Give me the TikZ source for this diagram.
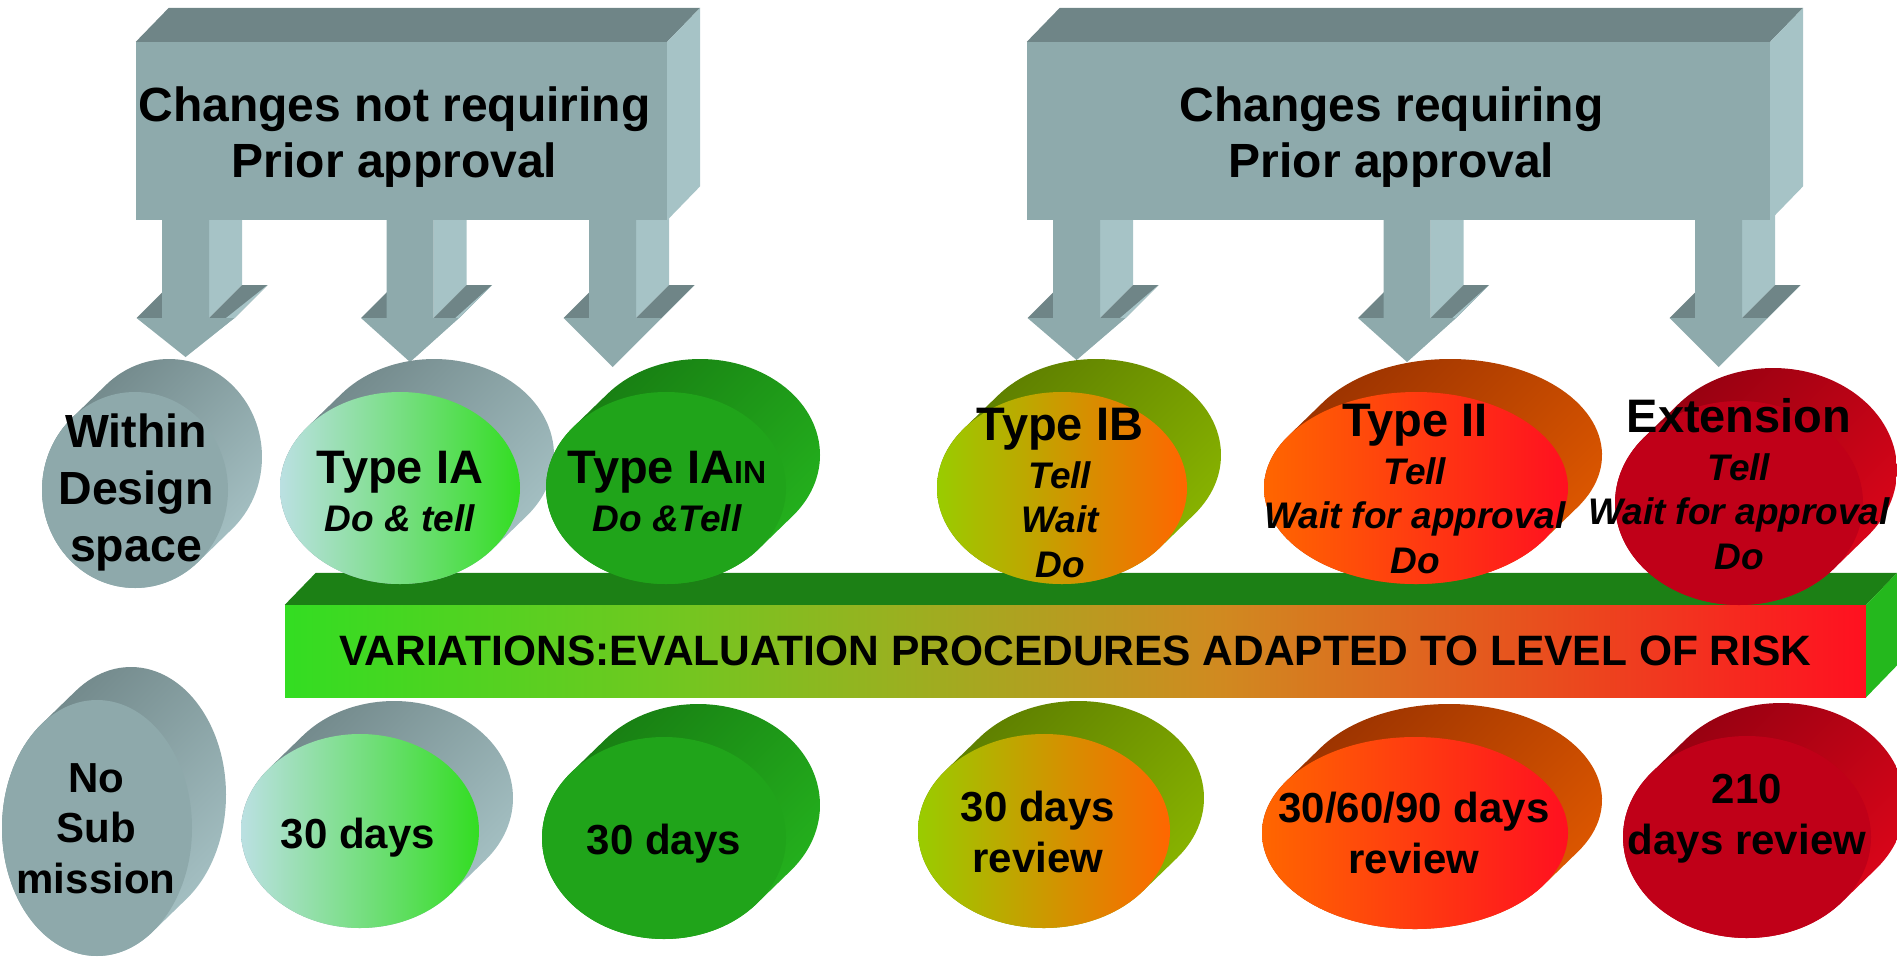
\documentclass[tikz,border=0pt]{standalone}
\usepackage{fontspec}
\setmainfont{Liberation Sans}
\usetikzlibrary{positioning, calc}

\definecolor{prismFront}{HTML}{8EAAAC}
\definecolor{prismTop}{HTML}{6F8587}
\definecolor{prismSide}{HTML}{A6C3C6}
\definecolor{greyDark}{HTML}{6E8486}
\definecolor{greyLight}{HTML}{A9C5C8}
\definecolor{greyFront}{HTML}{8EA9AB}
\definecolor{mintFront}{HTML}{BBE0E2}
\definecolor{limeFront}{HTML}{33DD22}
\definecolor{greenDark}{HTML}{177A12}
\definecolor{greenLight}{HTML}{25B51E}
\definecolor{greenFront}{HTML}{20A41A}
\definecolor{oliveDark}{HTML}{5A7A00}
\definecolor{oliveLight}{HTML}{8CB800}
\definecolor{yellowFront}{HTML}{99CC00}
\definecolor{orangeDark}{HTML}{963000}
\definecolor{orangeLight}{HTML}{E25A00}
\definecolor{orangeFront}{HTML}{FF6600}
\definecolor{orangeMid}{HTML}{FF5A08}
\definecolor{redDark}{HTML}{900010}
\definecolor{redLight}{HTML}{E0061A}
\definecolor{redFront}{HTML}{C00018}
\definecolor{redBright}{HTML}{FF1020}
\definecolor{barTop}{HTML}{1C8015}
\definecolor{barSide}{HTML}{24B81D}
\definecolor{barA}{HTML}{33DD22}
\definecolor{barB}{HTML}{70C820}
\definecolor{barC}{HTML}{9AB020}
\definecolor{barD}{HTML}{D08A20}
\definecolor{barE}{HTML}{E8501E}

\pgfdeclarehorizontalshading{riskbar}{100bp}{color(0bp)=(barA); color(25bp)=(barA); color(37bp)=(barB); color(44.5bp)=(barC); color(54.5bp)=(barD); color(64.5bp)=(barE); color(75bp)=(redBright); color(100bp)=(redBright)}

% disc seen at an angle: centre, x radius, y radius, side style, face style
\newcommand{\Disc}[5]{%
  \pgfmathsetmacro\DiscAngle{atan((#3*34)/(#2*33))}%
  \path[#4] ($(#1)+(34,-33)+(\DiscAngle:#2 and #3)$)
    arc[start angle=\DiscAngle, end angle=\DiscAngle-180, x radius=#2, y radius=#3]
    -- ($(#1)+(\DiscAngle-180:#2 and #3)$)
    arc[start angle=\DiscAngle-180, end angle=\DiscAngle-360, x radius=#2, y radius=#3]
    -- cycle;
  \path[#5] (#1) ellipse[x radius=#2, y radius=#3];%
}

% block arrow pointing down: shaft centre, tip
\newcommand{\BlockArrow}[2]{%
  \fill[prismside] ({#1+23.5},200) -- ({#1+56.5},167) -- ({#1+56.5},285) -- ({#1+23.5},318) -- cycle;
  \fill[prismtop] ({#1+23.5},318) -- ({#1+49},318) -- ({#1+82},285) -- ({#1+56.5},285) -- cycle;
  \fill[prismside] ({#1+49},318) -- ({#1+82},285) -- ({#1+33},{#2-33}) -- (#1,#2) -- cycle;
  \fill[prismtop] ({#1-49},318) -- ({#1-23.5},318) -- ({#1+9.5},285) -- ({#1-16},285) -- cycle;
  \fill[prismfront] ({#1-23.5},200) -- ({#1+23.5},200) -- ({#1+23.5},318) -- ({#1+49},318)
    -- (#1,#2) -- ({#1-49},318) -- ({#1-23.5},318) -- cycle;%
}

\begin{document}
\begin{tikzpicture}[x=1pt, y=-1pt, node distance=9pt,
    every node/.style={inner sep=0pt},
    prismfront/.style={fill=prismFront},
    prismtop/.style={fill=prismTop},
    prismside/.style={fill=prismSide},
    headline/.style={font=\fontsize{48}{56}\selectfont\bfseries, align=center},
    disctitle/.style={font=\fontsize{47}{50}\selectfont\bfseries, text depth=12pt},
    discsteps/.style={font=\fontsize{37}{44.5}\selectfont\bfseries\itshape, align=center},
    discnote/.style={font=\fontsize{42}{50.5}\selectfont\bfseries, align=center},
    greyside/.style={top color=greyDark, bottom color=greyLight, shading angle=45},
    greenside/.style={top color=greenDark, bottom color=greenLight, shading angle=45},
    oliveside/.style={top color=oliveDark, bottom color=oliveLight, shading angle=45},
    orangeside/.style={top color=orangeDark, bottom color=orangeLight, shading angle=45},
    redside/.style={top color=redDark, bottom color=redLight, shading angle=45},
    greyface/.style={fill=greyFront},
    mintface/.style={left color=mintFront, right color=limeFront},
    greenface/.style={fill=greenFront},
    yellowface/.style={left color=yellowFront, right color=orangeFront},
    orangeface/.style={left color=orangeFront, middle color=orangeMid, right color=redBright},
    redface/.style={fill=redFront}]
  \useasboundingbox (0,0) rectangle (1897,956);
  \clip (0,0) rectangle (1897,956);

  % Arrows
  \BlockArrow{185.5}{357}
  \BlockArrow{410}{362}
  \BlockArrow{612.5}{367}
  \BlockArrow{1076.5}{360}
  \BlockArrow{1407}{362}
  \BlockArrow{1718.5}{367}

  % Boxes
  \node[prismfront, minimum width=531pt, minimum height=178pt] (NotPrior) at (401.5,131) {};
  \fill[prismtop] (NotPrior.north west) -- ++(33,-34) -- ([shift={(33,-34)}]NotPrior.north east) -- (NotPrior.north east) -- cycle;
  \fill[prismside] (NotPrior.north east) -- ++(33,-34) -- ([shift={(33,-34)}]NotPrior.south east) -- (NotPrior.south east) -- cycle;

  \node[prismfront, minimum width=743pt, minimum height=178pt] (Prior) at (1398.5,131) {};
  \fill[prismtop] (Prior.north west) -- ++(33,-34) -- ([shift={(33,-34)}]Prior.north east) -- (Prior.north east) -- cycle;
  \fill[prismside] (Prior.north east) -- ++(33,-34) -- ([shift={(33,-34)}]Prior.south east) -- (Prior.south east) -- cycle;

  \node[headline] (NotPriorText) at ($(NotPrior)+(-7,6.5)$) {Changes not requiring\\Prior approval};
  \node[headline] (PriorText) at ($(Prior)+(-7,6.5)$) {Changes requiring\\Prior approval};

  % Bar
  \node[shade, shading=riskbar, minimum width=1581pt, minimum height=92pt,
    font=\fontsize{42.5}{48}\selectfont\bfseries] (RiskBar) at (1075.5,651)
    {VARIATIONS:EVALUATION PROCEDURES ADAPTED TO LEVEL OF RISK};
  \fill[barTop] (RiskBar.north west) -- ++(31,-32) -- ([shift={(31,-32)}]RiskBar.north east) -- (RiskBar.north east) -- cycle;
  \fill[barSide] (RiskBar.north east) -- ++(31,-32) -- ([shift={(31,-32)}]RiskBar.south east) -- (RiskBar.south east) -- cycle;

  % Discs
  \coordinate (WithinC) at (135,490);
  \coordinate (TypeIAC) at (400,488);
  \coordinate (TypeIAINC) at (666,488);
  \coordinate (TypeIBC) at (1062,488);
  \coordinate (TypeIIC) at (1416,488);
  \coordinate (ExtensionC) at (1739,503);
  \coordinate (NoSubC) at (97,828);
  \coordinate (DaysIAC) at (360,831);
  \coordinate (DaysIAINC) at (664,838);
  \coordinate (DaysIBC) at (1044,831);
  \coordinate (DaysIIC) at (1415,833);
  \coordinate (DaysExtC) at (1747,837);

  \Disc{WithinC}{93}{98}{greyside}{greyface}
  \Disc{TypeIAC}{120}{96}{greyside}{mintface}
  \Disc{TypeIAINC}{120}{96}{greenside}{greenface}
  \Disc{TypeIBC}{125}{96}{oliveside}{yellowface}
  \Disc{TypeIIC}{152}{96}{orangeside}{orangeface}
  \Disc{ExtensionC}{124}{102}{redside}{redface}
  \Disc{NoSubC}{95}{128}{greyside}{greyface}
  \Disc{DaysIAC}{119}{97}{greyside}{mintface}
  \Disc{DaysIAINC}{122}{101}{greenside}{greenface}
  \Disc{DaysIBC}{126}{97}{oliveside}{yellowface}
  \Disc{DaysIIC}{153}{96}{orangeside}{orangeface}
  \Disc{DaysExtC}{124}{101}{redside}{redface}

  % Nodes
  \node[font=\fontsize{46.5}{57}\selectfont\bfseries, align=center, anchor=north] (Within) at (136,414) {Within\\Design\\space};
  \node[disctitle, anchor=base] (TypeIA) at (400,483) {Type IA};
  \node[discsteps, below=of TypeIA] (TypeIASteps) {Do \& tell};
  \node[disctitle, anchor=base] (TypeIAIN) at (667,483) {Type IA{\fontsize{32}{32}\selectfont IN}};
  \node[discsteps, below=of TypeIAIN] (TypeIAINSteps) {Do \&Tell};
  \node[disctitle, anchor=base] (TypeIB) at (1060,440) {Type IB};
  \node[discsteps, below=of TypeIB] (TypeIBSteps) {Tell\\Wait\\Do};
  \node[disctitle, anchor=base] (TypeII) at (1415,436) {Type II};
  \node[discsteps, below=of TypeII] (TypeIISteps) {Tell\\Wait for approval\\Do};
  \node[disctitle, anchor=base] (Extension) at (1739,432) {Extension};
  \node[discsteps, below=of Extension] (ExtensionSteps) {Tell\\Wait for approval\\Do};

  \node[discnote, anchor=north] (NoSubmission) at (96,763) {No\\Sub\\mission};
  \node[discnote, anchor=base] (DaysIA) at (358,848) {30 days};
  \node[discnote, anchor=base] (DaysIAIN) at (664,854) {30 days};
  \node[discnote, anchor=north] (DaysIB) at (1038,791) {30 days\\review};
  \node[discnote, anchor=north] (DaysII) at (1414,792) {30/60/90 days\\review};
  \node[discnote, anchor=north] (DaysExtension) at (1747,774) {210\\days review};
\end{tikzpicture}
\end{document}
